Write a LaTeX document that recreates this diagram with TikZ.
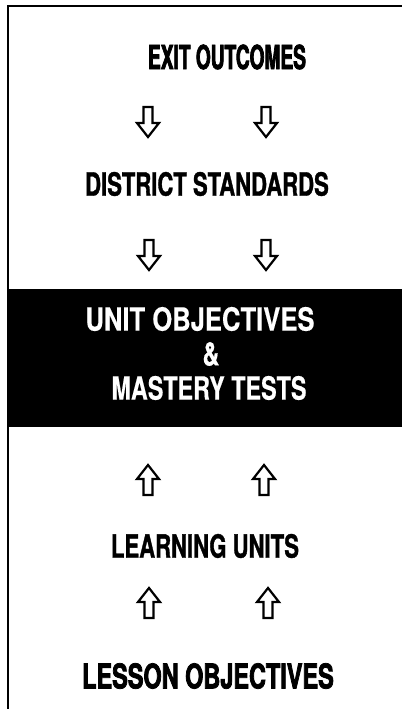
\documentclass[tikz,border=0pt]{standalone}
\usepackage{fontspec}
\setmainfont{TeX Gyre Heros}
\newcommand{\lblfont}[3]{\bfseries\fontsize{#1}{#1}\selectfont\addfontfeature{FakeStretch=#2,FakeBold=#3}}
\begin{document}
\begin{tikzpicture}[x=1pt,y=-1pt,
  lbl/.style={font=\lblfont{32}{0.69}{1}, inner sep=0pt, anchor=center},
  headlbl/.style={lbl, font=\lblfont{33}{0.58}{2.2}},
  bandlbl/.style={lbl, text=white},
  hollow/.style={draw=black, fill=white, line width=2.2pt, line join=miter},
  downarrow/.pic={\path[hollow] (-4.5,-15) -- (4.5,-15) -- (4.5,1) -- (11,1) -- (0,15) -- (-11,1) -- (-4.5,1) -- cycle;},
  uparrow/.pic={\path[hollow] (-4.5,15) -- (4.5,15) -- (4.5,-1) -- (11,-1) -- (0,-15) -- (-11,-1) -- (-4.5,-1) -- cycle;}
]
\useasboundingbox (0,0) rectangle (402,709);
\fill[white] (0,0) rectangle (402,709);
% dark band behind the middle level
\fill[black] (8,289) rectangle (402,427);
% frame
\draw[line width=2.4pt] (8,709) -- (8,6) -- (402,6);

\node[headlbl] (exit) at (227,57) {EXIT OUTCOMES};
\node[lbl] (district) at (207,184) {DISTRICT STANDARDS};
\node[bandlbl, font=\lblfont{32}{0.80}{0.4}] (unit) at (200,319) {UNIT OBJECTIVES};
\node[bandlbl, font=\lblfont{32}{0.73}{0.4}] (amp) at (211,354) {\&};
\node[bandlbl, font=\lblfont{32}{0.73}{0.4}] (mastery) at (209,388) {MASTERY TESTS};
\node[lbl] (learning) at (205,546) {LEARNING UNITS};
\node[headlbl, font=\lblfont{34}{0.69}{2.2}] (lesson) at (208,676) {LESSON OBJECTIVES};

\pic at (148,122) {downarrow};
\pic at (266,122) {downarrow};
\pic at (149,255) {downarrow};
\pic at (266,255) {downarrow};
\pic at (148,480) {uparrow};
\pic at (264,480) {uparrow};
\pic at (149,603) {uparrow};
\pic at (268,603) {uparrow};
\end{tikzpicture}
\end{document}
